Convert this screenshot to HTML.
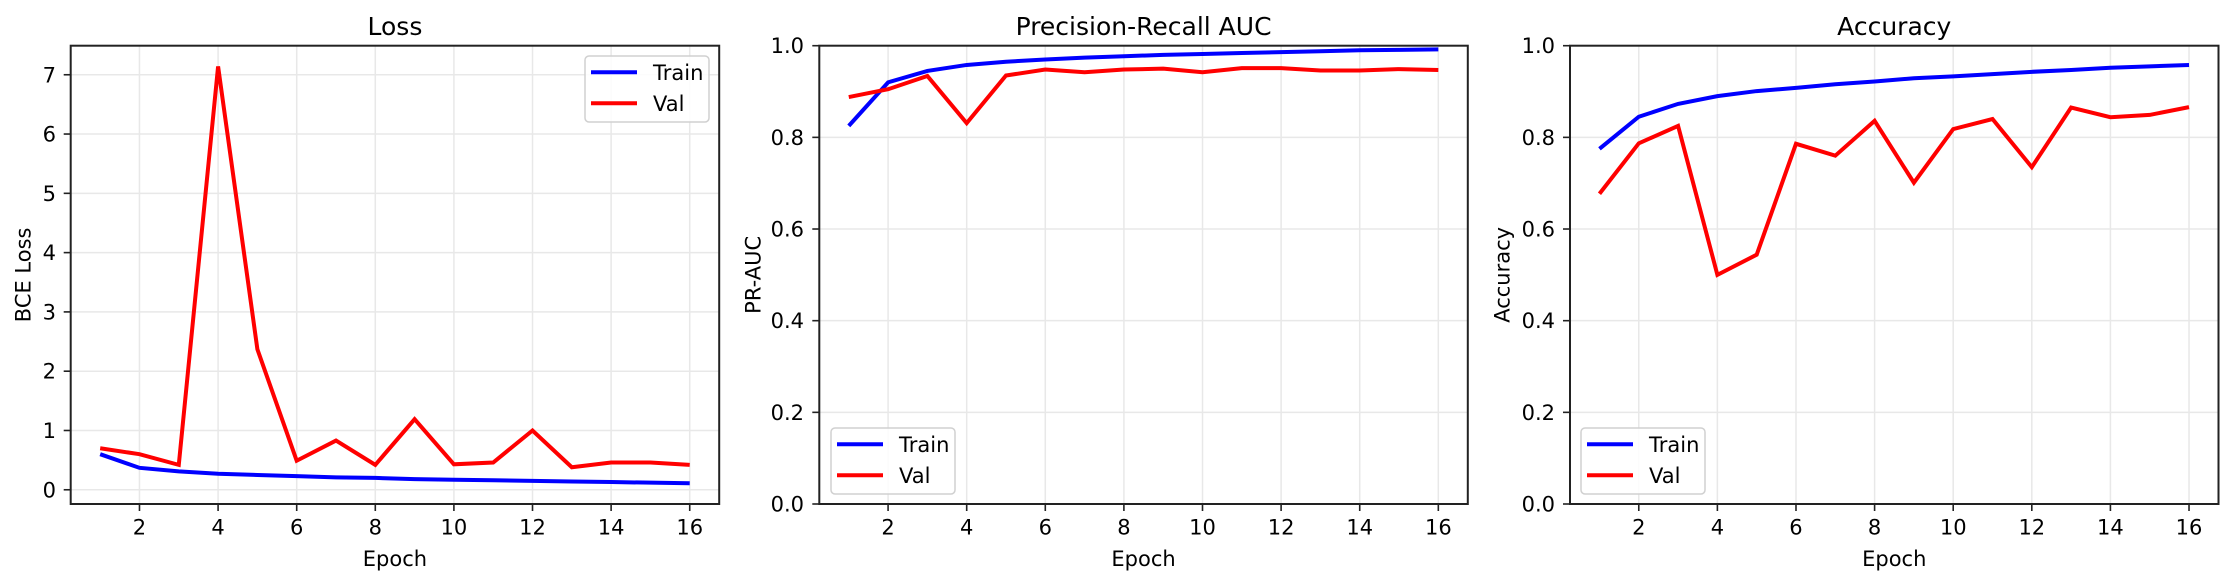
<!DOCTYPE html>
<html><head><meta charset="utf-8"><style>
html,body{margin:0;padding:0;background:#fff;}
svg{display:block;font-family:"DejaVu Sans","Liberation Sans",sans-serif;}
</style></head><body>
<svg id="fig" width="2234" height="582" viewBox="0 0 2234 582" xmlns="http://www.w3.org/2000/svg"></svg>
<script>
const epochs=[1,2,3,4,5,6,7,8,9,10,11,12,13,14,15,16];
const xTicks=[2,4,6,8,10,12,14,16];
const lossTrain=[0.6,0.37,0.31,0.27,0.25,0.23,0.21,0.2,0.18,0.17,0.16,0.15,0.14,0.13,0.12,0.11];
const lossVal=[0.7,0.6,0.42,7.14,2.37,0.49,0.83,0.42,1.19,0.43,0.46,1.0,0.38,0.46,0.46,0.42];
const lossTicks=[0,1,2,3,4,5,6,7];
const prTrain=[0.825,0.92,0.945,0.958,0.965,0.97,0.974,0.977,0.98,0.982,0.984,0.986,0.988,0.99,0.991,0.992];
const prVal=[0.888,0.905,0.934,0.831,0.935,0.948,0.942,0.948,0.95,0.942,0.951,0.951,0.946,0.946,0.949,0.947];
const accTrain=[0.775,0.845,0.873,0.89,0.901,0.908,0.916,0.922,0.929,0.933,0.938,0.943,0.947,0.952,0.955,0.958];
const accVal=[0.677,0.787,0.825,0.5,0.544,0.786,0.76,0.836,0.701,0.818,0.84,0.735,0.865,0.844,0.849,0.866];
const unitTicks=[0,0.2,0.4,0.6,0.8,1.0];

const NS="http://www.w3.org/2000/svg";
const svg=document.getElementById('fig');
function mk(tag,attrs,parent){const e=document.createElementNS(NS,tag);for(const k in attrs)e.setAttribute(k,attrs[k]);(parent||svg).appendChild(e);return e;}

const W=648.5, XMIN=0.25, XMAX=16.75;
const panels=[
 {name:'loss',title:'Loss',ylabel:'BCE Loss',L:70.7,ymin:-0.24,ymax:7.49,ticks:lossTicks,fmt:v=>String(v),train:lossTrain,val:lossVal,ylx:23,tickR:56,leg:{x:585,y:56,w:124,h:66}},
 {name:'pr-auc',title:'Precision-Recall AUC',ylabel:'PR-AUC',L:819.3,ymin:0,ymax:1,ticks:unitTicks,fmt:v=>v.toFixed(1),train:prTrain,val:prVal,ylx:753,tickR:804,leg:{x:831,y:428,w:124,h:66}},
 {name:'accuracy',title:'Accuracy',ylabel:'Accuracy',L:1570,ymin:0,ymax:1,ticks:unitTicks,fmt:v=>v.toFixed(1),train:accTrain,val:accVal,ylx:1502,tickR:1555,leg:{x:1581,y:428,w:124,h:66}}
];
const T=45.7,B=504;
panels.forEach(p=>{
 const R=p.L+W;
 const g=mk('g',{});
 
 
 const xs=v=>p.L+(v-XMIN)/(XMAX-XMIN)*W;
 const ys=v=>B-(v-p.ymin)/(p.ymax-p.ymin)*(B-T);
 xTicks.forEach(t=>{const l=mk('line',{x1:xs(t),x2:xs(t),y1:T,y2:B,stroke:'#e8e8e8','stroke-width':1.5},g);
  });
 p.ticks.forEach(t=>{const l=mk('line',{x1:p.L,x2:R,y1:ys(t),y2:ys(t),stroke:'#e8e8e8','stroke-width':1.5},g);
  });
 [['train',p.train,'#0000ff'],['val',p.val,'#ff0000']].forEach(([n,arr,c])=>{
  const pts=arr.map((v,i)=>xs(epochs[i]).toFixed(2)+','+ys(v).toFixed(2)).join(' ');
  const pl=mk('polyline',{points:pts,fill:'none',stroke:c,'stroke-width':4,'stroke-linejoin':'miter'},g);
  
 });
 const fr=mk('rect',{x:p.L,y:T,width:W,height:B-T,fill:'none',stroke:'#222','stroke-width':2},g);
 
 xTicks.forEach(t=>{mk('line',{x1:xs(t),x2:xs(t),y1:B,y2:B+7,stroke:'#222','stroke-width':1.6},g);
  const tx=mk('text',{x:xs(t),y:534.5,'text-anchor':'middle','font-size':21,fill:'#000'},g);tx.textContent=t;
  });
 p.ticks.forEach(t=>{mk('line',{x1:p.L-7,x2:p.L,y1:ys(t),y2:ys(t),stroke:'#222','stroke-width':1.6},g);
  const tx=mk('text',{x:p.tickR,y:ys(t)+7.5,'text-anchor':'end','font-size':21,fill:'#000'},g);tx.textContent=p.fmt(t);
  });
 const ti=mk('text',{x:p.L+W/2,y:35,'text-anchor':'middle','font-size':25,fill:'#000'},g);ti.textContent=p.title;
 
 const xl=mk('text',{x:p.L+W/2,y:566,'text-anchor':'middle','font-size':21,fill:'#000'},g);xl.textContent='Epoch';
 
 const cy=(T+B)/2;
 const yl=mk('text',{x:p.ylx,y:cy,'text-anchor':'middle','font-size':21,fill:'#000',transform:`rotate(-90 ${p.ylx} ${cy}) translate(0 7.5)`},g);yl.textContent=p.ylabel;
 
 const lg=mk('g',{},g);
 
 const q=p.leg;
 mk('rect',{x:q.x,y:q.y,width:q.w,height:q.h,rx:4,fill:'#fff','fill-opacity':0.85,stroke:'#d0d0d0','stroke-width':1.5},lg);
 [['Train','#0000ff',16.3],['Val','#ff0000',47.3]].forEach(([lab,c,dy])=>{
  const e=mk('g',{},lg);
  
  mk('line',{x1:q.x+6,x2:q.x+52,y1:q.y+dy,y2:q.y+dy,stroke:c,'stroke-width':4},e);
  const t=mk('text',{x:q.x+68,y:q.y+dy+7.5,'font-size':21,fill:'#000'},e);t.textContent=lab;
 });
});
</script>
</body></html>
